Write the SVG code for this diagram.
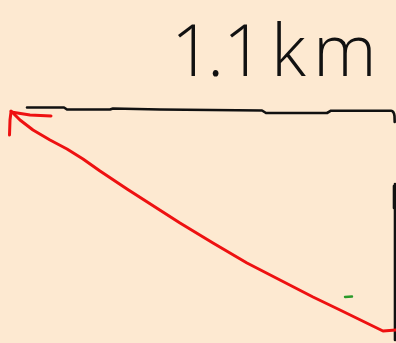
<svg xmlns="http://www.w3.org/2000/svg" width="396" height="343" viewBox="0 0 396 343">
<style>
.ink{fill:none;stroke-linecap:round;stroke-linejoin:round}
.blk{stroke:#111;stroke-width:2.6}
.red{stroke:#ee1111;stroke-width:3}
.lbl{font-family:"Open Sans","Liberation Sans",Arial,sans-serif;font-weight:300;font-size:72px;fill:#111}
</style>
<rect width="396" height="343" fill="#fde9d1"/>
<g id="label">
<text class="lbl" x="171 207 223 271 313" y="76">1.1km</text>
</g>
<g id="outline">
<path class="ink blk" d="M27,107.5 L64,107.5 L67,109.5 L110,109.5 L113,108.5 L160,109.5 L262,110.5 L266,113 L327,113 L331,110.7 L391,110.7 Q394,111 394.5,116 L394.7,122"/>
<path class="ink blk" d="M395,184 L395,340"/>
<path class="ink blk" stroke-width="3.5" d="M394,186 L394,208"/>
</g>
<g id="diagonal">
<path class="ink red" d="M11,111 L20,120 L33,130 L50,140 L67,149 L83,159 L100,171 L127,189 L180,223 L213,243 L247,263 L280,280 L313,297 L340,310 L383,331 L396,330"/>
<path class="ink red" d="M9.5,135 L10,120 L11,112 L30,115 L51,116"/>
</g>
<g id="mark">
<path class="ink" stroke="#2a9a2a" stroke-width="2.4" d="M345,297 L352,296.5"/>
</g>
</svg>
